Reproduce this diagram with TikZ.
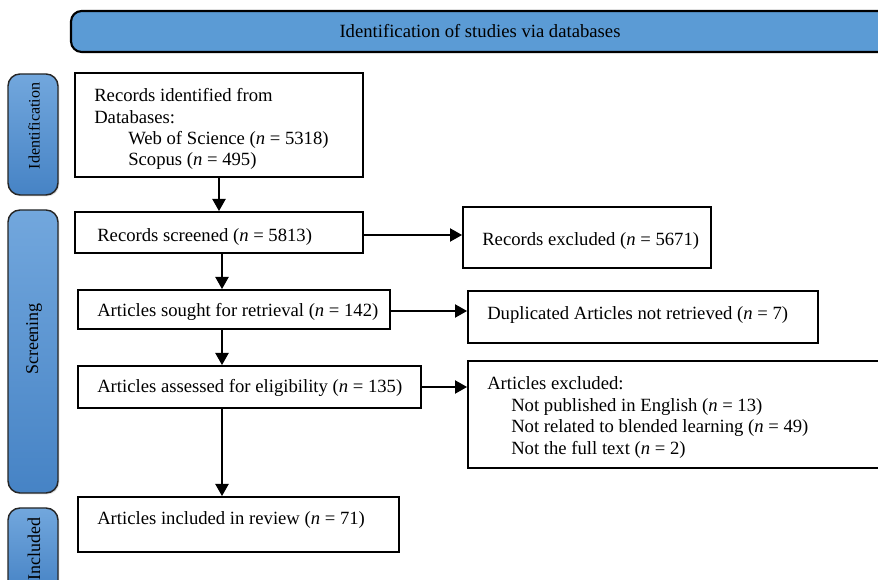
\documentclass[tikz,border=0pt]{standalone}
\usepackage{fontspec}
\setmainfont{Liberation Serif}
\usetikzlibrary{arrows.meta,fit,shadows}
\definecolor{bannerblue}{HTML}{5B9BD5}
\definecolor{phasetop}{HTML}{72A7DD}
\definecolor{phasebot}{HTML}{4683C5}
\begin{document}
\begin{tikzpicture}[x=0.75pt,y=-0.75pt,
  box/.style={draw=black,line width=1.5pt,inner sep=0pt},
  phase/.style={draw=black!85,line width=1.1pt,rounded corners=9pt,inner sep=0pt,
    top color=phasetop,bottom color=phasebot,
    drop shadow={opacity=0.25,shadow xshift=1pt,shadow yshift=-1pt}},
  banner/.style={draw=black,line width=1.6pt,rounded corners=8pt,fill=bannerblue,inner sep=0pt},
  txt/.style={inner sep=0pt,anchor=base west,font=\fontsize{14}{16}\selectfont},
  vtxt/.style={inner sep=0pt,rotate=90,font=\fontsize{13.5}{15}\selectfont},
  arr/.style={line width=0.8pt,-{Triangle[width=10pt,length=9pt]}}]
\useasboundingbox (0,0) rectangle (878,580);
% banner
\node[banner,fit={(71,11) (900,52)}] (ban) {};
\node[inner sep=0pt,anchor=base,font=\fontsize{14}{16}\selectfont] (bant) at (480,38) {Identification of studies via databases};
% phase labels
\node[phase,fit={(8,74) (58,195)}] (ph1) {};
\node[vtxt,font=\fontsize{12}{14}\selectfont] (ph1t) at (34,126) {Identification};
\node[phase,fit={(8,210) (58,493)}] (ph2) {};
\node[vtxt] (ph2t) at (34,339) {Screening};
\node[phase,fit={(8,508) (58,592)}] (ph3) {};
\node[vtxt] (ph3t) at (34,549) {Included};
% boxes
\node[box,fit={(75,73) (363,177)}] (id) {};
\node[txt] (id1) at (94,102) {Records identified from};
\node[txt] (id2) at (94,124) {Databases:};
\node[txt] (id3) at (128,145) {Web of Science (\textit{n} = 5318)};
\node[txt] (id4) at (128,166) {Scopus (\textit{n} = 495)};
\node[box,fit={(75,212) (363,253)}] (scr) {};
\node[txt] (scrt) at (97,242) {Records screened (\textit{n} = 5813)};
\node[box,fit={(463,207) (711,268)}] (exc) {};
\node[txt] (exct) at (482,246) {Records excluded (\textit{n} = 5671)};
\node[box,fit={(78,290) (390,329)}] (sou) {};
\node[txt] (sout) at (97,317) {Articles sought for retrieval (\textit{n} = 142)};
\node[box,fit={(468,291) (818,343)}] (dup) {};
\node[txt] (dupt) at (487,320) {Duplicated Articles not retrieved (\textit{n} = 7)};
\node[box,fit={(78,366) (421,408)}] (ass) {};
\node[txt] (asst) at (97,393) {Articles assessed for eligibility (\textit{n} = 135)};
\node[box,fit={(468,361) (884,468)}] (exl) {};
\node[txt] (exl1) at (487,390) {Articles excluded:};
\node[txt] (exl2) at (511,412) {Not published in English (\textit{n} = 13)};
\node[txt] (exl3) at (511,433) {Not related to blended learning (\textit{n} = 49)};
\node[txt] (exl4) at (511,455) {Not the full text (\textit{n} = 2)};
\node[box,fit={(78,497) (399,552)}] (inc) {};
\node[txt] (inct) at (97,525) {Articles included in review (\textit{n} = 71)};
% arrows
\coordinate (a1) at (219,0);
\coordinate (a2) at (222,0);
\draw[arr] (id.south -| a1) -- (scr.north -| a1);
\draw[arr] (scr.south -| a2) -- (sou.north -| a2);
\draw[arr] (sou.south -| a2) -- (ass.north -| a2);
\draw[arr] (ass.south -| a2) -- (inc.north -| a2);
\coordinate (r1) at (0,235);
\coordinate (r2) at (0,311);
\coordinate (r3) at (0,387);
\draw[arr] (scr.east |- r1) -- (exc.west |- r1);
\draw[arr] (sou.east |- r2) -- (dup.west |- r2);
\draw[arr] (ass.east |- r3) -- (exl.west |- r3);
\end{tikzpicture}
\end{document}
